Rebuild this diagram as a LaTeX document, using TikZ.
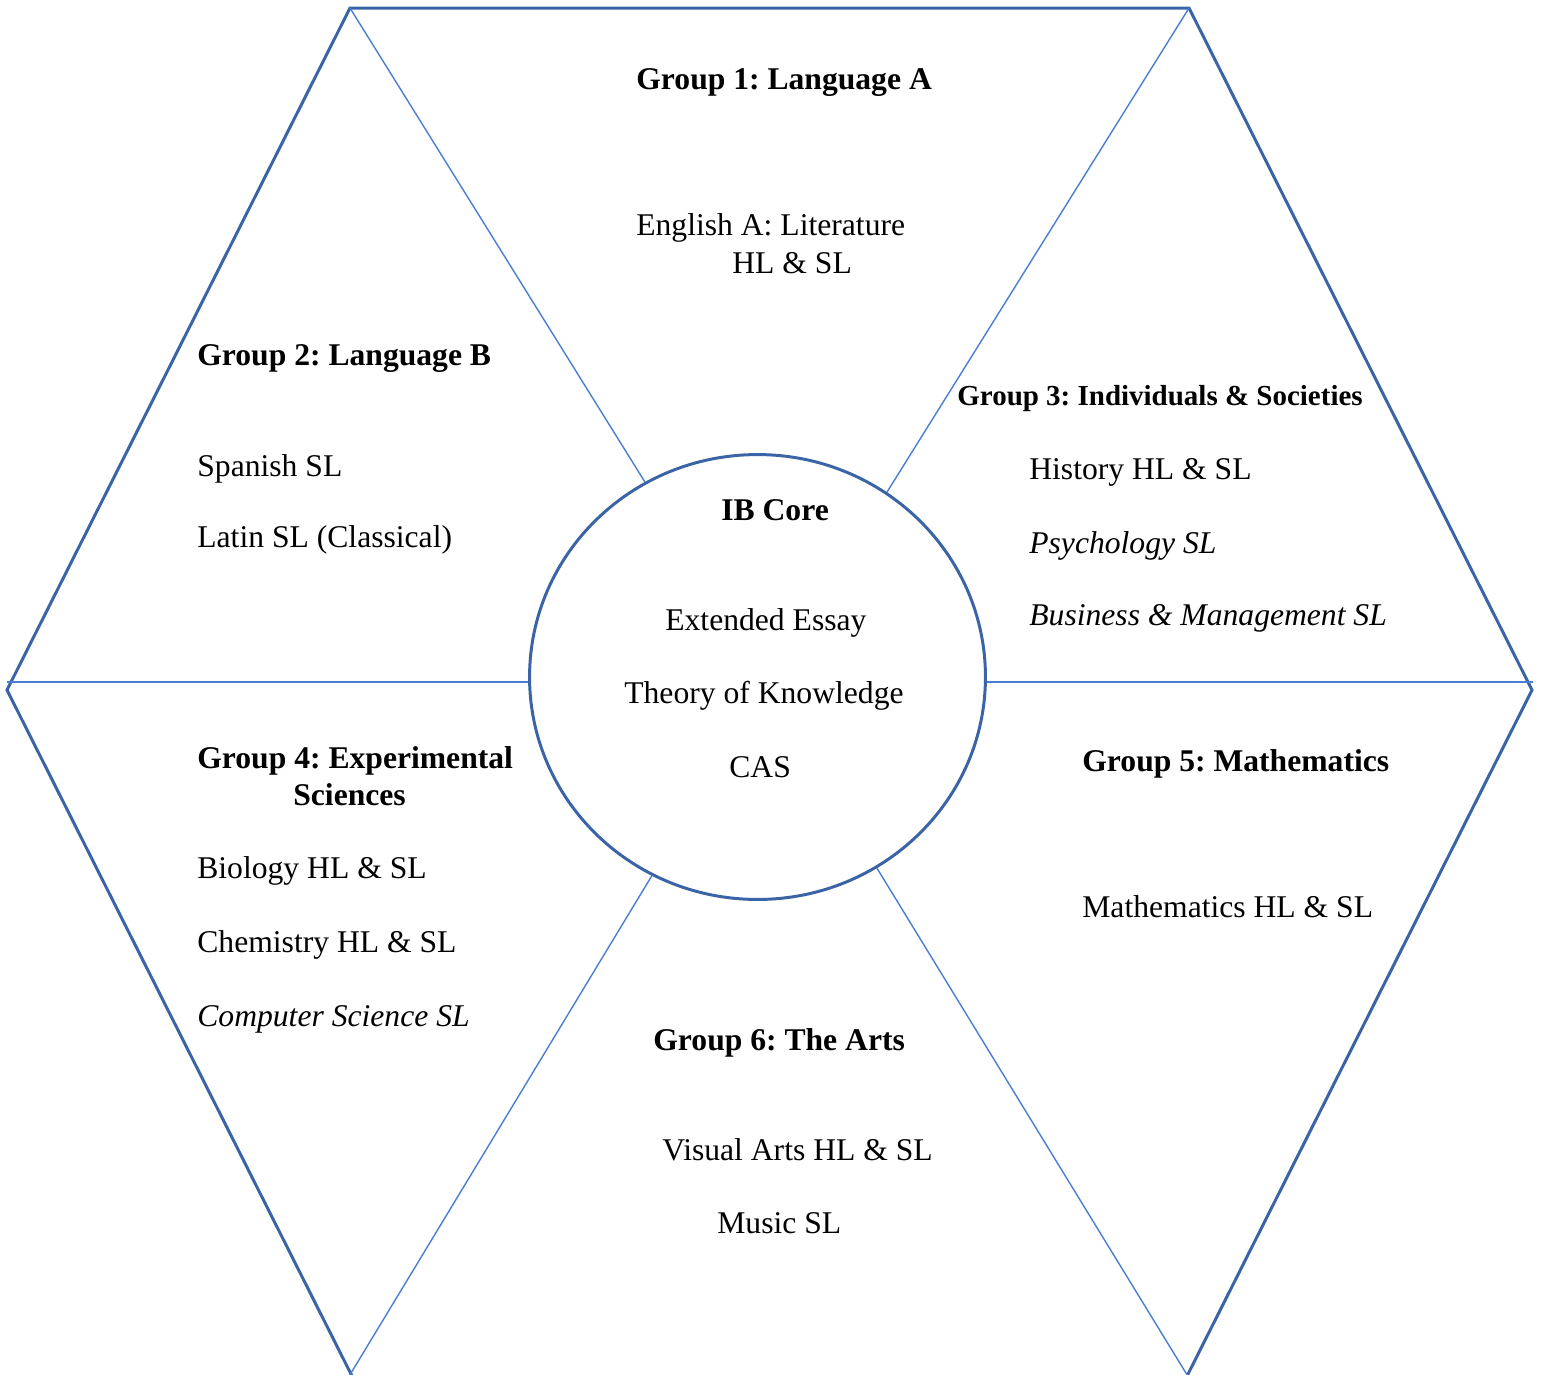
\documentclass[tikz,border=0pt]{standalone}
\usepackage{fontspec}
\setmainfont{Liberation Serif}
\usepackage{xcolor}
\usetikzlibrary{shapes.geometric,calc}
\frenchspacing
\definecolor{hexblue}{HTML}{3B64A6}
\definecolor{spokeblue}{HTML}{4A7ED2}
\tikzset{
  hexedge/.style={
    draw=hexblue, line width=1.7pt, line join=miter
  },
  spoke/.style={
    draw=spokeblue, line width=0.8pt
  },
  coreellipse/.style={
    ellipse, draw=hexblue, line width=1.7pt,
    minimum width=9.12cm, minimum height=8.9cm,
    inner sep=0pt
  },
  subject/.style={
    anchor=base west, inner sep=0pt,
    font=\fontsize{18}{22}\selectfont
  },
  grouptitle/.style={
    subject, font=\fontsize{#1}{22}\selectfont\bfseries
  },
  grouptitle/.default=18,
  elective/.style={
    subject, font=\fontsize{18}{22}\selectfont\itshape
  },
}

\begin{document}
\begin{tikzpicture}[x=0.02cm, y=-0.02cm]
  \useasboundingbox (0,0) rectangle (1544,1374);
  \clip (0,0) rectangle (1544,1374);

  % Hexagon
  \coordinate (tl) at (350,8);
  \coordinate (tr) at (1189,8);
  \coordinate (rt) at (1532,690);
  \coordinate (br) at (1184,1382);
  \coordinate (bl) at (355,1382);
  \coordinate (lf) at (7,690);
  \draw[hexedge] (tl) -- (tr) -- (rt) -- (br) -- (bl) -- (lf) -- cycle;

  % IB Core
  \node[coreellipse] (core) at (757.5,677) {};

  % Spokes
  \coordinate (sbl) at (348,1378);
  \coordinate (sbr) at (1189,1378);
  \coordinate (hl) at (7,682);
  \coordinate (hr) at (1533,682);
  \draw[spoke] (tl) -- (core.120.3);
  \draw[spoke] (tr) -- (core.55);
  \draw[spoke] (sbl) -- (core.242.4);
  \draw[spoke] (sbr) -- (core.302.3);
  \draw[spoke] (hl) -- (hl -| core.west);
  \draw[spoke] (hr) -- (hr -| core.east);

  % Core text
  \node[grouptitle] (coret) at (721,520) {IB Core};
  \node[subject] (ee) at (665,630) {Extended Essay};
  \node[subject] (tok) at (624,703) {Theory of Knowledge};
  \node[subject] (cas) at (729,777) {CAS};

  % Group 1
  \node[grouptitle] (g1t) at (636,89) {Group 1: Language A};
  \node[subject] (eng) at (636,235) {English A: Literature};
  \node[subject] (englvl) at (732,273) {HL \& SL};

  % Group 2
  \node[grouptitle] (g2t) at (197,365) {Group 2: Language B};
  \node[subject] (spa) at (197,476) {Spanish SL};
  \node[subject] (lat) at (197,547) {Latin SL (Classical)};

  % Group 3
  \node[grouptitle=16.5] (g3t) at (957,405) {Group 3: Individuals \& Societies};
  \node[subject] (his) at (1029,479) {History HL \& SL};
  \node[elective] (psy) at (1029,553) {Psychology SL};
  \node[elective] (bus) at (1029,625) {Business \& Management SL};

  % Group 4
  \node[grouptitle] (g4t) at (197,768) {Group 4: Experimental};
  \node[grouptitle] (g4tb) at (293,805) {Sciences};
  \node[subject] (bio) at (197,878) {Biology HL \& SL};
  \node[subject] (che) at (197,952) {Chemistry HL \& SL};
  \node[elective] (cs) at (197,1026) {Computer Science SL};

  % Group 5
  \node[grouptitle] (g5t) at (1082,771) {Group 5: Mathematics};
  \node[subject] (mat) at (1082,917) {Mathematics HL \& SL};

  % Group 6
  \node[grouptitle] (g6t) at (653,1050) {Group 6: The Arts};
  \node[subject] (vis) at (662,1160) {Visual Arts HL \& SL};
  \node[subject] (mus) at (717,1233) {Music SL};
\end{tikzpicture}
\end{document}
